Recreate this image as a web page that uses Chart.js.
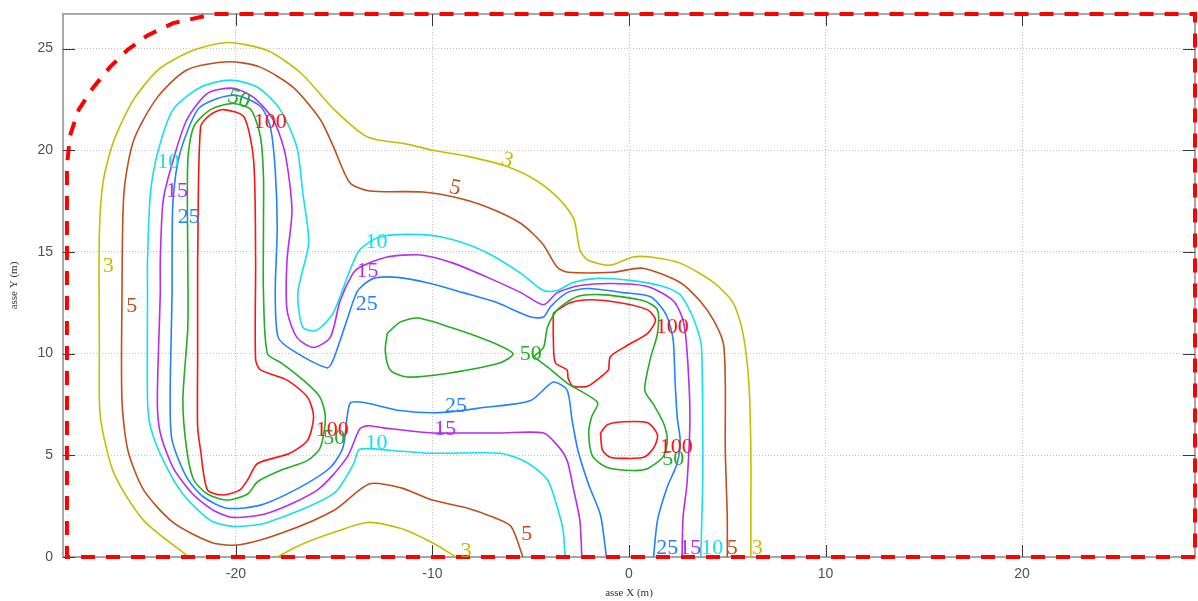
<!DOCTYPE html>
<html>
<head>
<meta charset="utf-8">
<script src="https://cdn.jsdelivr.net/npm/chart.js@4.4.1/dist/chart.umd.min.js"></script>
<style>
html,body{margin:0;padding:0;background:#fff;}
#wrap{position:relative;width:1198px;height:601px;}
</style>
</head>
<body>
<div id="wrap"><canvas id="c"></canvas></div>
<script>
// Axis extents and tick values (metres)
const xRange = [-28.8, 28.8];
const yRange = [0, 26.7];
const xTicks = [-20, -10, 0, 10, 20];
const yTicks = [0, 5, 10, 15, 20, 25];

// Domain boundary (dashed)
const boundary = [[28.8,0],[-28.6,0],[-28.6,19.2],[-28.45,20.7],[-28.0,22.0],[-27.25,23.1],[-26.4,24.1],[-25.5,24.95],[-24.5,25.65],[-23.2,26.25],[-21.8,26.55],[-21.15,26.7],[28.8,26.7],[28.8,0]];

// Iso-line 3
const iso3Outer = [[-22.4,0],[-24.7,1.8],[-26.2,4.1],[-26.9,6.9],[-26.95,10.2],[-26.95,15.9],[-26.75,18.5],[-26.2,20.5],[-25.2,22.5],[-23.9,24.0],[-22.2,24.9],[-20.4,25.3],[-18.4,24.9],[-16.7,23.8],[-15.0,22.0],[-13.3,20.65],[-11.3,20.3],[-10.0,20.0],[-8.2,19.7],[-6.2,19.2],[-4.7,18.5],[-3.5,17.55],[-2.8,16.6],[-2.5,15.1],[-2.1,14.6],[-0.95,14.35],[0.2,14.75],[1.1,14.75],[2.6,14.45],[4.3,13.5],[5.3,12.5],[5.8,11.0],[6.1,8.55],[6.2,5.25],[6.2,1.95],[6.2,0]];
const iso3Inner = [[-17.9,0],[-16.7,0.6],[-15.05,1.2],[-13.3,1.7],[-11.6,1.4],[-10.0,0.7],[-8.8,0]];

// Iso-line 5
const iso5 = [[-5.4,0],[-6.0,1.5],[-6.9,1.95],[-8.2,2.4],[-10.0,2.8],[-11.6,3.4],[-13.2,3.6],[-15.0,2.3],[-17.6,1.2],[-19.8,0.6],[-21.2,0.7],[-23.2,1.7],[-24.7,3.3],[-25.5,5.25],[-25.8,7.7],[-25.8,12.6],[-25.7,17.9],[-25.2,20.5],[-24.0,22.6],[-22.5,23.95],[-20.4,24.35],[-18.8,24.1],[-17.1,23.1],[-15.7,21.5],[-15.05,20.2],[-14.2,18.4],[-13.2,18.0],[-10.5,17.95],[-8.9,17.7],[-7.2,17.2],[-5.5,16.4],[-4.4,15.4],[-3.65,14.25],[-3.1,14.0],[-0.8,14.0],[0.7,14.2],[2.6,13.5],[3.6,12.6],[4.3,11.65],[4.8,10.5],[4.9,8.55],[4.9,5.25],[5.0,1.95],[5.0,0]];

// Iso-line 10
const iso10 = [[-3.25,0],[-3.35,1.3],[-3.65,2.45],[-4.15,3.8],[-5.2,4.65],[-6.55,5.1],[-10.0,5.1],[-11.6,5.2],[-13.7,5.3],[-14.0,4.6],[-15.05,3.1],[-18.4,1.7],[-20.1,1.5],[-21.3,1.8],[-22.7,3.1],[-23.7,4.75],[-24.35,6.4],[-24.5,7.7],[-24.5,13.0],[-24.5,14.6],[-24.35,17.9],[-23.95,20.0],[-23.2,22.0],[-21.8,23.1],[-20.3,23.45],[-18.9,23.1],[-17.75,22.0],[-16.9,20.15],[-16.6,17.9],[-16.3,15.45],[-16.85,13.0],[-16.6,11.3],[-15.9,11.15],[-15.05,12.0],[-14.2,14.1],[-13.7,15.1],[-12.65,15.75],[-10.6,15.85],[-8.95,15.6],[-7.2,14.95],[-5.5,13.95],[-4.35,13.1],[-3.65,13.1],[-2.85,13.5],[-1.6,13.7],[0.05,13.6],[1.75,13.3],[2.6,12.9],[3.2,11.9],[3.6,10.8],[3.7,10.15],[3.75,6.9],[3.75,3.6],[3.65,0]];

// Iso-line 15
const iso15 = [[-2.4,0],[-2.5,1.8],[-2.85,3.45],[-3.15,4.75],[-3.65,5.5],[-4.35,6.1],[-6.55,6.1],[-8.2,6.1],[-10.0,6.1],[-12.5,6.35],[-13.3,6.45],[-13.7,6.3],[-14.35,4.9],[-15.85,3.3],[-18.4,2.15],[-20.15,1.95],[-21.15,2.3],[-22.2,3.1],[-23.2,4.4],[-23.85,6.1],[-24.0,7.7],[-23.85,13.0],[-23.85,14.6],[-23.7,17.55],[-23.2,19.5],[-22.5,21.5],[-21.45,22.8],[-20.15,23.05],[-19.1,22.6],[-18.1,21.5],[-17.5,19.85],[-17.15,17.05],[-17.4,14.6],[-17.4,12.15],[-16.9,10.8],[-16.05,10.3],[-15.2,10.8],[-14.7,12.6],[-14.05,13.95],[-13.7,14.25],[-12.3,14.75],[-10.6,14.85],[-8.95,14.45],[-7.2,13.75],[-5.5,13.0],[-4.35,12.4],[-3.65,13.0],[-2.5,13.35],[-0.8,13.45],[0.95,13.3],[2.25,12.6],[2.75,11.65],[2.95,10.15],[3.1,6.9],[2.95,3.6],[2.75,1.95],[2.7,0]];

// Iso-line 25
const iso25 = [[-1.15,0],[-1.45,2.05],[-2.05,3.55],[-2.6,5.25],[-2.9,6.75],[-3.15,8.2],[-3.85,8.6],[-5.0,7.7],[-7.4,7.35],[-9.6,7.1],[-11.65,7.2],[-13.5,7.6],[-14.2,7.55],[-14.55,5.4],[-15.2,4.4],[-16.7,3.45],[-18.75,2.55],[-20.45,2.4],[-21.65,2.95],[-22.5,3.9],[-23.25,5.75],[-23.35,7.7],[-23.25,13.0],[-23.25,14.6],[-23.2,17.55],[-22.85,19.85],[-21.95,22.0],[-20.95,22.55],[-19.95,22.7],[-18.75,22.15],[-18.25,21.15],[-18.0,19.0],[-17.9,16.2],[-18.0,13.0],[-17.85,10.8],[-17.1,10.15],[-15.35,9.3],[-15.05,9.7],[-14.35,11.65],[-13.8,13.1],[-13.0,13.7],[-11.8,13.75],[-10.1,13.45],[-8.45,13.0],[-6.7,12.5],[-5.0,11.8],[-4.35,11.8],[-4.0,12.3],[-3.15,13.0],[-2.1,13.2],[-0.3,13.0],[1.1,12.8],[1.75,12.15],[2.0,11.65],[2.25,10.65],[2.35,8.55],[2.45,6.9],[2.6,5.75],[2.45,4.6],[1.95,3.45],[1.45,1.8],[1.25,0]];

// Iso-line 50 (three closed loops)
const iso50Left = [[-22.45,14.6],[-22.45,19.5],[-22.15,21.15],[-21.3,22.0],[-20.15,22.3],[-19.25,22.0],[-18.75,20.65],[-18.6,18.7],[-18.6,16.2],[-18.6,13.0],[-18.4,10.0],[-17.7,9.55],[-16.7,8.8],[-15.75,7.9],[-15.45,6.9],[-15.7,5.4],[-16.35,4.75],[-17.75,4.25],[-18.9,3.7],[-19.4,3.1],[-20.45,2.8],[-21.45,3.1],[-22.15,3.8],[-22.5,5.25],[-22.7,7.7],[-22.45,11.3],[-22.45,14.6]];
const iso50Mid = [[-12.3,11.0],[-11.65,11.55],[-10.75,11.75],[-9.1,11.3],[-7.2,10.65],[-5.9,10.0],[-6.55,9.55],[-9.1,9.05],[-11.3,8.85],[-12.15,9.2],[-12.4,10.15],[-12.3,11.0]];
const iso50Right = [[-4.85,9.85],[-4.15,9.35],[-3.15,8.55],[-1.6,7.6],[-1.9,6.9],[-2.05,6.1],[-1.85,4.95],[-1.1,4.4],[0.2,4.25],[0.95,4.35],[1.75,4.95],[1.95,5.75],[1.75,6.6],[1.25,7.5],[0.8,8.2],[1.1,9.8],[1.45,11.0],[1.45,12.15],[0.75,12.6],[-1.45,12.9],[-2.65,12.8],[-3.65,12.15],[-4.15,11.3],[-4.35,10.3],[-4.85,9.85]];

// Iso-line 100 (three closed loops)
const iso100Left = [[-21.95,14.6],[-21.8,21.15],[-21.3,21.75],[-20.65,22.0],[-19.6,21.65],[-19.1,19.5],[-19.0,14.6],[-19.0,9.7],[-18.75,9.2],[-17.4,8.7],[-16.35,7.85],[-16.05,6.9],[-16.35,5.75],[-17.25,5.1],[-18.9,4.6],[-19.4,3.8],[-19.8,3.3],[-20.65,3.05],[-21.45,3.3],[-21.8,5.25],[-21.95,6.4],[-21.95,9.7],[-21.95,14.6]];
const iso100Upper = [[-3.85,12.0],[-3.0,12.5],[-1.95,12.65],[-0.45,12.5],[0.95,12.15],[1.35,11.65],[0.95,11.0],[-0.1,10.4],[-0.95,9.85],[-1.05,9.2],[-1.45,8.85],[-2.1,8.4],[-2.85,8.4],[-3.1,8.8],[-3.15,9.2],[-3.75,9.55],[-3.85,10.8],[-3.85,12.0]];
const iso100Lower = [[-1.45,6.1],[-1.1,6.5],[-0.3,6.65],[0.95,6.6],[1.45,6.0],[1.25,5.35],[0.75,4.9],[-0.3,4.85],[-0.95,4.9],[-1.35,5.25],[-1.45,6.1]];

// Level values and where each level is annotated
const levels = [3, 5, 10, 15, 25, 50, 100];
const labels3 = [[-26.5,14.3],[-6.2,19.5],[-8.3,0.3],[6.53,0.43]];
const labels5 = [[-25.3,12.35],[-8.85,18.15],[-5.2,1.1],[5.26,0.43]];
const labels10 = [[-23.45,19.4],[-12.85,15.5],[-12.85,5.6],[4.24,0.43]];
const labels15 = [[-23.0,18.0],[-13.3,14.05],[-9.35,6.3],[3.12,0.43]];
const labels25 = [[-22.4,16.7],[-13.35,12.45],[-8.8,7.4],[1.95,0.43]];
const labels50 = [[-19.85,22.5],[-5.0,9.95],[-15.0,5.85],[2.25,4.8]];
const labels100 = [[-18.25,21.4],[2.2,11.3],[-15.1,6.25],[2.4,5.4]];

const levelColors = ['#c6bd00', '#bf4f1c', '#14e0ea', '#b42ef2', '#2182fb', '#22ae22', '#fa1414'];
const levelLines = [[iso3Outer, iso3Inner], [iso5], [iso10], [iso15], [iso25], [iso50Left, iso50Mid, iso50Right], [iso100Left, iso100Upper, iso100Lower]];
const levelLabels = [labels3, labels5, labels10, labels15, labels25, labels50, labels100];
// tilt (degrees) of the labels that follow a sloping line
const labelTilt = {'3:1': 18, '5:1': 12, '50:0': 20};

const toPts = arr => arr.map(p => ({x: p[0], y: p[1]}));

const datasets = [{
  label: 'boundary',
  data: toPts(boundary),
  borderColor: '#ff0000',
  borderWidth: 4,
  borderDash: [14, 11],
  showLine: true,
  pointRadius: 0,
  tension: 0,
  clip: false
}];
levels.forEach((lv, i) => {
  levelLines[i].forEach((line, j) => {
    datasets.push({
      label: 'iso ' + lv + (j ? ' (' + j + ')' : ''),
      data: toPts(line),
      borderColor: levelColors[i],
      borderWidth: 1.6,
      showLine: true,
      pointRadius: 0,
      tension: 0.25,
      fill: false
    });
  });
});

// Plot frame with inward tick marks on all four sides
const framePlugin = {
  id: 'frame',
  beforeDatasetsDraw(chart) {
    const {ctx, chartArea: a} = chart;
    const sx = chart.scales.x, sy = chart.scales.y;
    ctx.save();
    ctx.strokeStyle = '#8c8c8c';
    ctx.lineWidth = 1.5;
    ctx.strokeRect(a.left, a.top, a.right - a.left, a.bottom - a.top);
    ctx.strokeStyle = '#3a3a3a';
    ctx.lineWidth = 1;
    ctx.beginPath();
    const len = 12;
    xTicks.forEach(v => {
      const p = Math.round(sx.getPixelForValue(v)) + 0.5;
      ctx.moveTo(p, a.bottom); ctx.lineTo(p, a.bottom - len);
      ctx.moveTo(p, a.top); ctx.lineTo(p, a.top + len);
    });
    yTicks.forEach(v => {
      const p = Math.round(sy.getPixelForValue(v)) + 0.5;
      ctx.moveTo(a.left, p); ctx.lineTo(a.left + len, p);
      ctx.moveTo(a.right, p); ctx.lineTo(a.right - len, p);
    });
    ctx.stroke();
    ctx.restore();
  }
};

// Level annotations placed on the iso-lines
const levelLabelPlugin = {
  id: 'levelLabels',
  afterDatasetsDraw(chart) {
    const {ctx} = chart;
    const sx = chart.scales.x, sy = chart.scales.y;
    ctx.save();
    ctx.font = '22px "Liberation Serif", "Times New Roman", serif';
    ctx.textAlign = 'center';
    ctx.textBaseline = 'middle';
    levels.forEach((lv, i) => {
      ctx.fillStyle = levelColors[i];
      levelLabels[i].forEach((p, k) => {
        const px = sx.getPixelForValue(p[0]);
        const py = sy.getPixelForValue(p[1]);
        const tilt = labelTilt[lv + ':' + k] || 0;
        ctx.save();
        ctx.translate(px, py);
        ctx.rotate(tilt * Math.PI / 180);
        ctx.fillText(String(lv), 0, 0);
        ctx.restore();
      });
    });
    ctx.restore();
  }
};

const tickFont = {family: '"Liberation Sans", Arial, sans-serif', size: 14};
const titleFont = {family: '"Liberation Serif", "Times New Roman", serif', size: 11};

new Chart(document.getElementById('c'), {
  type: 'scatter',
  data: {datasets},
  options: {
    responsive: true,
    maintainAspectRatio: false,
    animation: false,
    layout: {padding: {left: 0, right: 3, top: 14, bottom: 0}},
    plugins: {legend: {display: false}, tooltip: {enabled: false}},
    scales: {
      x: {
        type: 'linear',
        min: xRange[0],
        max: xRange[1],
        afterBuildTicks: s => { s.ticks = xTicks.map(v => ({value: v})); },
        afterFit: s => { s.height = 44; s.paddingLeft = 0; s.paddingRight = 0; },
        ticks: {color: '#505050', font: tickFont, padding: 9, maxRotation: 0},
        grid: {color: '#c4c4c4', lineWidth: 1, drawTicks: false},
        border: {display: false, dash: [1, 2]},
        title: {display: true, text: 'asse X (m)', color: '#333333', font: titleFont, padding: {top: 0, bottom: 1}}
      },
      y: {
        type: 'linear',
        min: yRange[0],
        max: yRange[1],
        afterBuildTicks: s => { s.ticks = yTicks.map(v => ({value: v})); },
        afterFit: s => { s.width = 63; s.paddingTop = 0; s.paddingBottom = 0; },
        ticks: {color: '#505050', font: tickFont, padding: 10},
        grid: {color: '#c4c4c4', lineWidth: 1, drawTicks: false},
        border: {display: false, dash: [1, 2]},
        title: {display: true, text: 'asse Y (m)', color: '#333333', font: titleFont, padding: {top: 8, bottom: 0}}
      }
    }
  },
  plugins: [framePlugin, levelLabelPlugin]
});
</script>
</body>
</html>
